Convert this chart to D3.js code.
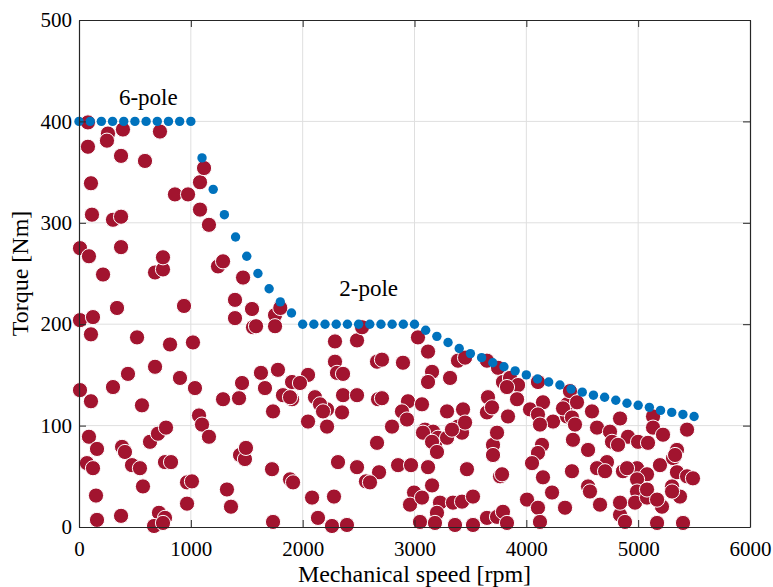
<!DOCTYPE html>
<html>
<head>
<meta charset="utf-8">
<script src="https://cdn.jsdelivr.net/npm/d3@7"></script>
<style>
  body { margin: 0; background: #fff; }
  svg text { font-family: "Liberation Serif", "DejaVu Serif", serif; fill: #000; }
</style>
</head>
<body>
<div id="chart"></div>
<script>
// Torque-speed envelope (blue dots): 6-pole then 2-pole region
const curveSpeed = [0, 100, 200, 300, 400, 500, 600, 700, 800, 900, 1000,
  1100, 1200, 1300, 1400, 1500, 1600, 1700, 1800, 1900,
  2000, 2100, 2200, 2300, 2400, 2500, 2600, 2700, 2800, 2900, 3000,
  3100, 3200, 3300, 3400, 3500, 3600, 3700, 3800, 3900, 4000, 4100, 4200,
  4300, 4400, 4500, 4600, 4700, 4800, 4900, 5000, 5100, 5200, 5300, 5400, 5500];
const curveTorque = [400, 400, 400, 400, 400, 400, 400, 400, 400, 400, 400,
  364, 333, 308, 286, 267, 250, 235, 222, 211,
  200, 200, 200, 200, 200, 200, 200, 200, 200, 200, 200,
  194, 188, 182, 176, 171, 167, 162, 158, 154, 150, 146, 143,
  140, 136, 133, 130, 128, 125, 122, 120, 118, 115, 113, 111, 109];

// Operating points (red circles)
const pointSpeed = [80, 259, 250, 393, 80, 376, 590, 724, 107, 858, 975, 1082, 1118, 116, 304, 376, 1162, 1082,
  9, 89, 376, 215, 680, 751, 751, 1243, 1288, 1467, 1395, 1395, 1547, 1556, 1583, 1753, 1753, 1800,
  9, 125, 107, 340, 939, 519, 814, 1019, 680, 438, 903, 304, 9, 1037, 107, 563, 1288, 1431, 1458,
  1073, 1100, 1162, 89, 161, 71, 125, 152, 161, 376, 385, 411, 474, 545, 572, 635, 706, 778, 769,
  823, 966, 1010, 966, 715, 769, 671, 751, 1323, 1359, 1440, 1484, 1493, 1627, 1663, 1779, 1905,
  1824, 1905, 1735, 2048, 1976, 2289, 2486, 2531, 2289, 2307, 2361, 2110, 2361, 2486, 2352, 2218,
  2155, 2048, 2218, 2665, 2674, 2709, 2897, 3031, 3121, 3389, 3318, 3157, 3121, 3648,
  1726, 1887, 1914, 2084, 2280, 1735, 2137, 2262, 2396, 2316, 2486, 2566, 2683, 2665, 2853, 2969,
  3121, 2996, 2960, 3067, 3157, 3228, 3344, 3425, 3523, 3201, 3049, 3183, 3362, 3523, 3648, 3738,
  1887, 2182, 2709, 2942, 3067, 2888, 2799, 2933, 3094, 3166, 3210, 3183, 3291, 3291, 3434, 3389,
  3425, 3469, 3657, 3648, 3702, 3702, 3765, 3452, 3747, 3791, 3854, 3926, 3827, 3917, 3693, 3836,
  4033, 4104, 4149, 4104, 4239, 4364, 4364, 3452, 3076, 3157, 3201, 3335, 3738, 4140, 4104, 2602,
  3783, 4051, 4149, 4230, 4346, 4006, 4104, 4122, 3791, 3827, 4390, 4453, 4328, 4408, 4435, 4587,
  4632, 4748, 4838, 4909, 4766, 4820, 4999, 5088, 5133, 5133, 5222, 5437, 4417, 4552, 4721, 4632,
  4704, 4864, 4990, 5079, 5195, 5347, 5312, 5347, 5437, 5490, 4408, 4552, 4569, 4659, 4838, 4990,
  4990, 4972, 5079, 5079, 5213, 5303, 5374, 5169, 5401, 4122, 4900, 4838, 4882, 5169, 5330, 5303];
const pointTorque = [399, 388, 381, 392, 375, 366, 361, 390, 339, 328, 328, 340, 354, 308, 303, 306, 298, 313,
  275, 267, 276, 249, 251, 254, 266, 257, 262, 246, 224, 206, 215, 197, 198, 209, 198, 216,
  204, 207, 190, 216, 218, 187, 180, 182, 158, 151, 147, 138, 135, 137, 124, 120, 126, 127, 142,
  110, 101, 89, 89, 77, 63, 58, 31, 7, 11, 79, 74, 61, 58, 40, 84, 92, 98, 64,
  64, 44, 45, 23, 14, 9, 1, 4, 37, 20, 71, 67, 78, 152, 137, 155, 143,
  130, 126, 114, 150, 142, 183, 184, 197, 163, 152, 151, 128, 130, 130, 113, 116,
  121, 104, 99, 163, 126, 165, 162, 187, 173, 164, 147, 153, 143, 164,
  57, 47, 44, 29, 30, 5, 9, 1, 2, 64, 59, 45, 54, 83, 61, 61,
  59, 34, 22, 29, 41, 24, 24, 25, 30, 14, 5, 4, 2, 2, 9, 10,
  128, 114, 127, 124, 121, 114, 99, 106, 96, 94, 88, 81, 88, 114, 116, 99,
  93, 57, 128, 113, 81, 71, 50, 167, 157, 143, 147, 140, 138, 126, 118, 109,
  116, 143, 123, 111, 104, 121, 109, 103, 93, 84, 74, 96, 93, 81, 73, 44,
  52, 63, 49, 34, 19, 27, 19, 5, 15, 4, 134, 123, 117, 108, 101, 114,
  98, 94, 107, 89, 84, 81, 84, 83, 109, 98, 91, 96, 86, 76, 64, 58,
  55, 55, 58, 52, 61, 76, 68, 54, 50, 48, 55, 40, 35, 22, 12, 47,
  35, 24, 29, 37, 20, 40, 30, 4, 4, 101, 58, 24, 5, 27, 71, 35];

const xTicks = [0, 1000, 2000, 3000, 4000, 5000, 6000];
const yTicks = [0, 100, 200, 300, 400, 500];
const annotations = [
  { text: '6-pole', speed: 620, torque: 416 },
  { text: '2-pole', speed: 2590, torque: 228 }
];

const width = 773, height = 587;
const margin = { top: 20, right: 23, bottom: 60, left: 79 };
const plotW = width - margin.left - margin.right;
const plotH = height - margin.top - margin.bottom;

const svg = d3.select('#chart').append('svg')
  .attr('width', width)
  .attr('height', height);

const g = svg.append('g')
  .attr('transform', `translate(${margin.left},${margin.top})`);

const x = d3.scaleLinear().domain([0, 6000]).range([0, plotW]);
const y = d3.scaleLinear().domain([0, 500]).range([plotH, 0]);

// grid
g.append('g').selectAll('line').data(xTicks.slice(1, -1)).join('line')
  .attr('x1', d => x(d)).attr('x2', d => x(d))
  .attr('y1', 0).attr('y2', plotH)
  .attr('stroke', '#dfdfdf').attr('stroke-width', 1);
g.append('g').selectAll('line').data(yTicks.slice(1, -1)).join('line')
  .attr('y1', d => y(d)).attr('y2', d => y(d))
  .attr('x1', 0).attr('x2', plotW)
  .attr('stroke', '#dfdfdf').attr('stroke-width', 1);

// operating points
const pts = pointSpeed.map((s, i) => ({ s: s, t: pointTorque[i] }));
g.append('g').selectAll('circle').data(pts).join('circle')
  .attr('cx', d => x(d.s))
  .attr('cy', d => y(d.t))
  .attr('r', 7.6)
  .attr('fill', '#A2142F')
  .attr('stroke', '#fff')
  .attr('stroke-width', 1);

// envelope
const env = curveSpeed.map((s, i) => ({ s: s, t: curveTorque[i] }));
g.append('g').selectAll('circle').data(env).join('circle')
  .attr('cx', d => x(d.s))
  .attr('cy', d => y(d.t))
  .attr('r', 4.7)
  .attr('fill', '#0072BD');

// axes, MATLAB style box with inward ticks
const axisColor = '#262626';
const fmt = d3.format('d');
const xAxis = g.append('g').attr('transform', `translate(0,${plotH})`)
  .call(d3.axisBottom(x).tickValues(xTicks).tickFormat(fmt).tickSizeInner(-7).tickSizeOuter(0).tickPadding(14));
const yAxis = g.append('g')
  .call(d3.axisLeft(y).tickValues(yTicks).tickFormat(fmt).tickSizeInner(-7).tickSizeOuter(0).tickPadding(7));
const xTop = g.append('g')
  .call(d3.axisTop(x).tickValues(xTicks).tickSizeInner(-7).tickSizeOuter(0).tickFormat(''));
const yRight = g.append('g').attr('transform', `translate(${plotW},0)`)
  .call(d3.axisRight(y).tickValues(yTicks).tickSizeInner(-7).tickSizeOuter(0).tickFormat(''));

[xAxis, yAxis, xTop, yRight].forEach(a => {
  a.select('.domain').attr('stroke', axisColor).attr('stroke-width', 1.2);
  a.selectAll('.tick line').attr('stroke', axisColor).attr('stroke-width', 1);
  a.selectAll('.tick text')
    .attr('fill', '#000')
    .style('font-family', '"Liberation Serif", serif')
    .style('font-size', '21px');
});
xAxis.selectAll('.tick text').attr('dy', '0.71em');

// annotations
g.selectAll('text.note').data(annotations).join('text')
  .attr('class', 'note')
  .attr('x', d => x(d.speed))
  .attr('y', d => y(d.torque))
  .attr('text-anchor', 'middle')
  .style('font-size', '23px')
  .text(d => d.text);

// axis labels
svg.append('text')
  .attr('x', margin.left + plotW / 2)
  .attr('y', 582)
  .attr('text-anchor', 'middle')
  .style('font-size', '24px')
  .text('Mechanical speed [rpm]');

svg.append('text')
  .attr('transform', `translate(28,${margin.top + plotH / 2}) rotate(-90)`)
  .attr('text-anchor', 'middle')
  .style('font-size', '24px')
  .text('Torque [Nm]');
</script>
</body>
</html>
